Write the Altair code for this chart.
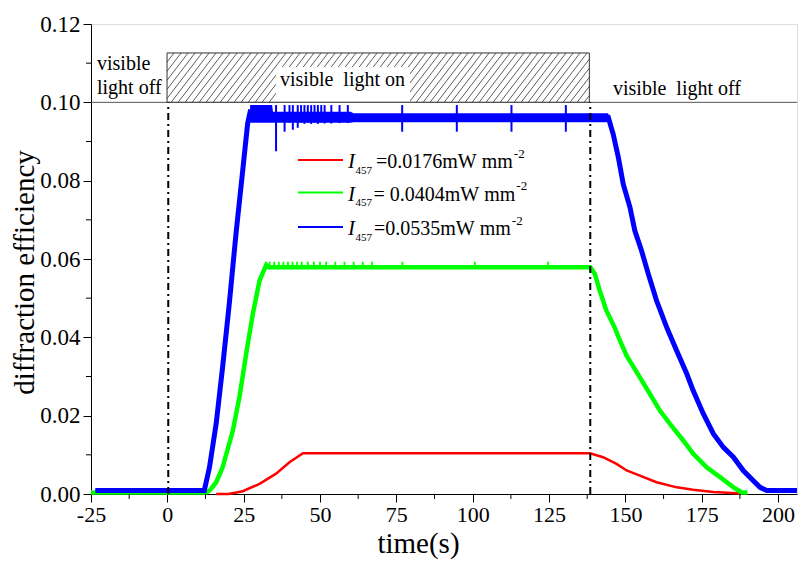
import altair as alt
import pandas as pd

# ---------------- data ----------------
red_t = [16, 20, 24.7, 30.2, 35.6, 40, 44.4, 138.4, 142.7, 147.1, 150.4, 153.7, 160.2,
         166.8, 172.2, 178.8, 186.5, 187.5]
red_v = [0, 0, 0.0007, 0.0026, 0.0052, 0.0081, 0.0104, 0.0104, 0.0094, 0.0077, 0.0060,
         0.0050, 0.0030, 0.0017, 0.0011, 0.0005, 0.0002, 0]

green_t = [-25, 12.7, 14, 16, 18.1, 21.4, 23.6, 25.8, 28, 30.2, 32.4, 33.2, 138.5, 140,
           141.6, 143.8, 146.5, 148.2, 150.4, 153.7, 158.0, 161.3, 164.6, 169.0, 172.2,
           176.6, 181.0, 185.4, 188.1, 190]
green_v = [0.0004, 0.0004, 0.001, 0.003, 0.0068, 0.016, 0.0247, 0.0357, 0.046, 0.0545,
           0.0585, 0.0579, 0.0579, 0.0562, 0.0519, 0.0468, 0.0425, 0.0392, 0.0353, 0.0311,
           0.0256, 0.0213, 0.0179, 0.0136, 0.0103, 0.0068, 0.0043, 0.0017, 0.0004, 0.0004]

blue_t = [-23.6, 12.1, 13.8, 16, 18.1, 20.3, 22.5, 24.7, 26.3, 27.1, 33.5, 144.4, 146,
          147.7, 149.3, 151.5, 153.1, 155.3, 157.5, 160.2, 163.5, 166.8, 170.1, 172.2,
          175.5, 178.8, 182.1, 185.4, 188.6, 191.9, 194.1, 196.3, 206.2]
blue_v = [0.0009, 0.0009, 0.0068, 0.018, 0.0324, 0.0487, 0.0666, 0.0827, 0.0946, 0.0975,
          0.0962, 0.0962, 0.0919, 0.0859, 0.0791, 0.0732, 0.0672, 0.0621, 0.0562, 0.0494,
          0.0426, 0.0366, 0.0307, 0.0264, 0.0205, 0.0154, 0.0119, 0.0094, 0.006, 0.0034,
          0.0017, 0.0009, 0.0009]

# noise envelope of the blue plateau
blue_band_t = [27.1, 34.3, 34.6, 60, 61, 144.4]
blue_band_lo = [0.0948, 0.0948, 0.0948, 0.0948, 0.0949, 0.0949]
blue_band_hi = [0.0993, 0.0993, 0.0976, 0.0976, 0.0972, 0.0972]

# individual noise spikes
blue_spike_t = [35.6, 38.4, 40.0, 41.1, 42.7, 43.8, 44.9, 46.0, 47.1, 48.2, 49.3, 50.4,
                51.5, 53.7, 56.4, 59.1, 76.9, 94.8, 112.7, 130.5]
blue_spike_lo = [0.0875, 0.0925, 0.0948, 0.0930, 0.0935, 0.0948, 0.0945, 0.0948, 0.0945,
                 0.0948, 0.0945, 0.0948, 0.0946, 0.0946, 0.0947, 0.0947, 0.0925, 0.0925,
                 0.0925, 0.0925]
blue_spike_hi = [0.0993] * 20

green_spike_t = [33.5, 35, 36.5, 38, 39.5, 41, 42.5, 44, 46, 48, 50, 52, 55, 58, 61, 64,
                 67, 77, 100.7, 124.7]
green_spike_lo = [0.0574] * 20
green_spike_hi = [0.0593] * 20

legend_main = ["=0.0176mW mm", "= 0.0404mW mm", "=0.0535mW mm"]
legend_colors = ["#FF0000", "#00FF00", "#0000FF"]

x_ticks = [-25, 0, 25, 50, 75, 100, 125, 150, 175, 200]
x_minor = [-12.5, 12.5, 37.5, 62.5, 87.5, 112.5, 137.5, 162.5, 187.5]
y_ticks = [0, 0.02, 0.04, 0.06, 0.08, 0.10, 0.12]
y_minor = [0.01, 0.03, 0.05, 0.07, 0.09, 0.11]

light_on_start = 0.3
light_on_end = 138.5
hatch_top = 0.1126

# ---------------- layout ----------------
W, H = 706, 470
LEFT, TOP = 91, 24
XMIN, XMAX = -25, 206.2
YMAX = 0.12
FONT = "Liberation Serif"


def px2t(px):
    return (px - LEFT) / W * (XMAX - XMIN) + XMIN


def t2px(t):
    return LEFT + (t - XMIN) / (XMAX - XMIN) * W


def py2v(py):
    return (TOP + H - py) / H * YMAX


def v2py(v):
    return TOP + H - v / YMAX * H


xs = alt.Scale(domain=[XMIN, XMAX], nice=False, zero=False)
ys = alt.Scale(domain=[0, YMAX], nice=False, zero=False)

x_axis = alt.Axis(values=x_ticks, labelExpr="'' + datum.value", title="time(s)",
                  titleFontSize=29, titleFontWeight="normal", titleFont=FONT,
                  labelFont=FONT, labelFontSize=22, labelColor="black", titleColor="black",
                  tickSize=8, tickColor="black", domainColor="black", grid=False,
                  labelPadding=2, titleX=327, titleY=58, titleBaseline="alphabetic",
                  titleAnchor="start", titleAlign="center", labelFlush=False)
y_axis = alt.Axis(values=y_ticks, format=".2f", title="diffraction efficiency",
                  titleFontSize=29, titleFontWeight="normal", titleFont=FONT,
                  labelFont=FONT, labelFontSize=23, labelColor="black", titleColor="black",
                  tickSize=8, tickColor="black", domainColor="black", grid=False,
                  labelPadding=3, titleX=-58, titleY=248, titleBaseline="alphabetic",
                  titleAlign="center", titleAngle=270, labelFlush=False)


def X(f="t", axis=None):
    if axis is None:
        return alt.X(f"{f}:Q", scale=xs, title="time(s)")
    return alt.X(f"{f}:Q", scale=xs, axis=axis)


def Y(f="v", axis=None):
    if axis is None:
        return alt.Y(f"{f}:Q", scale=ys, title="diffraction efficiency")
    return alt.Y(f"{f}:Q", scale=ys, axis=axis)


layers = []

# hatch lines in the "light on" box
bot_py = v2py(0.10)
top_py = v2py(hatch_top)
hh = bot_py - top_py
L, R = t2px(light_on_start - 0.4), t2px(light_on_end - 0.3)
run = hh / 1.3
rows = []
b = L - run
while b < R:
    x0, y0 = b, bot_py
    x1, y1 = b + run, top_py
    if x0 < L:
        y0 = bot_py - (L - x0) * 1.3
        x0 = L
    if x1 > R:
        y1 = top_py + (x1 - R) * 1.3
        x1 = R
    if x1 > x0:
        rows.append({"t": px2t(x0), "v": py2v(y0), "t2": px2t(x1), "v2": py2v(y1)})
    b += 7
hatch = alt.Chart(pd.DataFrame(rows)).mark_rule(color="#333333", strokeWidth=0.8).encode(
    x=X("t", x_axis), y=Y("v", y_axis), x2="t2:Q", y2="v2:Q")
layers.append(hatch)

# white box behind "visible light on"
wb = pd.DataFrame({"t": [px2t(276)], "t2": [px2t(410)], "v": [py2v(67)], "v2": [0.10]})
layers.append(alt.Chart(wb).mark_rect(color="white").encode(x=X(), x2="t2:Q", y=Y(), y2="v2:Q"))

# box outline
box = pd.DataFrame({"t": [light_on_start - 0.4], "t2": [light_on_end - 0.3], "v": [0.10], "v2": [hatch_top]})
layers.append(alt.Chart(box).mark_rect(fillOpacity=0, stroke="#333333", strokeWidth=1).encode(
    x=X(), x2="t2:Q", y=Y(), y2="v2:Q"))

# horizontal line at 0.10
hl = pd.DataFrame({"t": [XMIN], "t2": [XMAX], "v": [0.10]})
layers.append(alt.Chart(hl).mark_rule(color="#555555", strokeWidth=1).encode(
    x=X(), x2="t2:Q", y=Y()))

# curves
red_df = pd.DataFrame({"t": red_t, "v": red_v})
green_df = pd.DataFrame({"t": green_t, "v": green_v})
blue_df = pd.DataFrame({"t": blue_t, "v": blue_v})
layers.append(alt.Chart(red_df).mark_line(color="#FF0000", strokeWidth=2.5).encode(x=X(), y=Y()))

gs = pd.DataFrame({"t": green_spike_t, "v": green_spike_lo, "v2": green_spike_hi})
layers.append(alt.Chart(green_df).mark_line(color="#00FF00", strokeWidth=4.5).encode(x=X(), y=Y()))
layers.append(alt.Chart(gs).mark_rule(color="#00FF00", strokeWidth=1.8).encode(x=X(), y=Y(), y2="v2:Q"))

bb = pd.DataFrame({"t": blue_band_t, "v": blue_band_lo, "v2": blue_band_hi})
bs = pd.DataFrame({"t": blue_spike_t, "v": blue_spike_lo, "v2": blue_spike_hi})
layers.append(alt.Chart(bb).mark_area(color="#0000FF").encode(x=X(), y=Y(), y2="v2:Q"))
layers.append(alt.Chart(blue_df).mark_line(color="#0000FF", strokeWidth=5).encode(x=X(), y=Y()))
layers.append(alt.Chart(bs).mark_rule(color="#0000FF", strokeWidth=2).encode(x=X(), y=Y(), y2="v2:Q"))

# dash-dot markers
dd = pd.DataFrame({"t": [light_on_start, light_on_end], "v": [0, 0], "v2": [0.10, 0.10]})
layers.append(alt.Chart(dd).mark_rule(color="black", strokeWidth=2, strokeDash=[7, 4, 2, 4]).encode(
    x=X(), y=Y(), y2="v2:Q"))

# minor ticks
xm = pd.DataFrame({"t": x_minor})
layers.append(alt.Chart(xm).mark_rule(color="black", strokeWidth=1).encode(
    x=X(), y=alt.value(H), y2=alt.value(H + 5)))
ym = pd.DataFrame({"v": y_minor})
layers.append(alt.Chart(ym).mark_rule(color="black", strokeWidth=1).encode(
    y=Y(), x=alt.value(0), x2=alt.value(-5)))

# annotation texts
ann = pd.DataFrame({
    "t": [px2t(97), px2t(97), px2t(280), px2t(613)],
    "v": [py2v(70), py2v(94), py2v(86), py2v(95)],
    "txt": ["visible", "light off", "visible\u00a0 light on", "visible\u00a0 light off"],
})
layers.append(alt.Chart(ann).mark_text(align="left", baseline="alphabetic", font=FONT,
                                       fontSize=20, color="black").encode(
    x=X(), y=Y(), text="txt:N"))

# legend
row_py = [160, 192.5, 227]
metrics = {"=": 0.564, ".": 0.25, "m": 0.778, "W": 0.944, " ": 0.25}


def text_w(s, size):
    return sum(metrics.get(c, 0.5) for c in s) * size


leg_lines = pd.DataFrame({"t": [px2t(298)] * 3, "t2": [px2t(343)] * 3,
                          "v": [py2v(p) for p in row_py], "c": legend_colors})
layers.append(alt.Chart(leg_lines).mark_rule(strokeWidth=2).encode(
    x=X(), x2="t2:Q", y=Y(), color=alt.Color("c:N", scale=None)))

leg_I = pd.DataFrame({"t": [px2t(348)] * 3, "v": [py2v(p + 8) for p in row_py], "txt": ["I"] * 3})
layers.append(alt.Chart(leg_I).mark_text(align="left", baseline="alphabetic", font=FONT,
                                         fontSize=21, fontStyle="italic", color="black").encode(
    x=X(), y=Y(), text="txt:N"))
leg_sub = pd.DataFrame({"t": [px2t(355.5)] * 3, "v": [py2v(p + 13.5) for p in row_py], "txt": ["457"] * 3})
layers.append(alt.Chart(leg_sub).mark_text(align="left", baseline="alphabetic", font=FONT,
                                           fontSize=11, color="black").encode(
    x=X(), y=Y(), text="txt:N"))
main_x = [376, 373.5, 374]
leg_main = pd.DataFrame({"t": [px2t(x) for x in main_x], "v": [py2v(p + 8) for p in row_py],
                         "txt": [s.replace(" ", "\u00a0") for s in legend_main]})
layers.append(alt.Chart(leg_main).mark_text(align="left", baseline="alphabetic", font=FONT,
                                            fontSize=20, color="black").encode(
    x=X(), y=Y(), text="txt:N"))
leg_sup = pd.DataFrame({"t": [px2t(x + text_w(s, 20) + 1) for x, s in zip(main_x, legend_main)],
                        "v": [py2v(p - 2.5) for p in row_py], "txt": ["-2"] * 3})
layers.append(alt.Chart(leg_sup).mark_text(align="left", baseline="alphabetic", font=FONT,
                                           fontSize=13, color="black").encode(
    x=X(), y=Y(), text="txt:N"))

chart = alt.layer(*layers).properties(
    width=W, height=H, autosize="none",
    padding={"left": LEFT, "top": TOP, "right": 798 - LEFT - W, "bottom": 561 - TOP - H},
).configure_view(strokeWidth=0).configure(font=FONT)

chart.save("out.html", embed_options={"renderer": "svg", "actions": False})
